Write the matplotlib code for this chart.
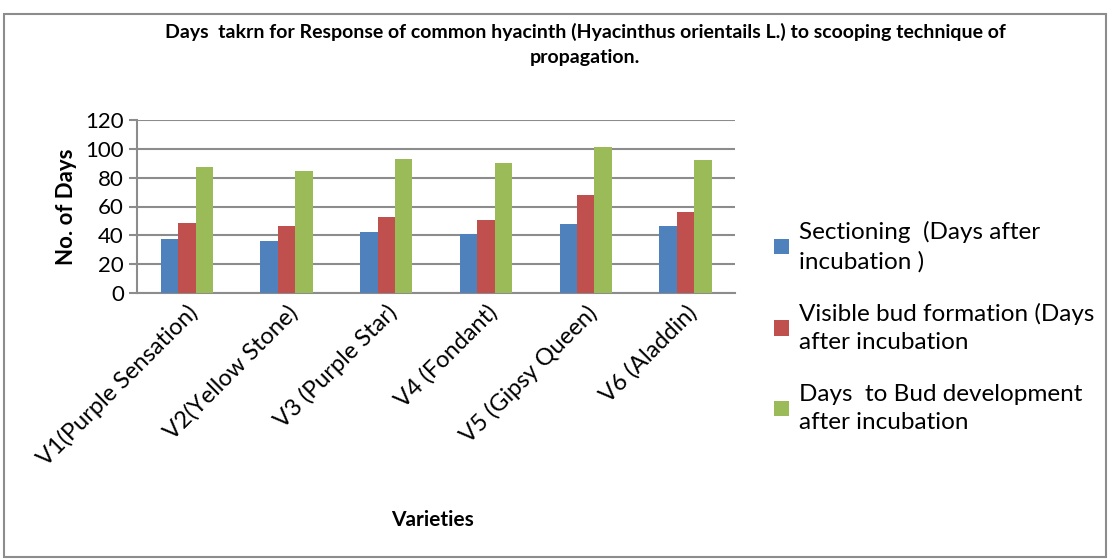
import matplotlib.pyplot as plt
import numpy as np
from matplotlib.patches import Rectangle

plt.rcParams['font.family'] = ['Lato', 'DejaVu Sans']

# Data
varieties = ["V1(Purple Sensation)", "V2(Yellow Stone)", "V3 (Purple Star)",
             "V4 (Fondant)", "V5 (Gipsy Queen)", "V6 (Aladdin)"]
sectioning = [37.5, 36.1, 42.6, 40.8, 47.7, 46.6]
visible_bud = [48.4, 46.6, 52.6, 50.7, 68.1, 56.3]
bud_development = [87.6, 84.8, 92.9, 90.3, 101.0, 92.2]
series_labels = ["Sectioning  (Days after\nincubation )",
                 "Visible bud formation (Days\nafter incubation",
                 "Days  to Bud development\nafter incubation"]
colors = ["#4F81BD", "#C0504D", "#9BBB59"]

fig = plt.figure(figsize=(11.1, 5.6), dpi=100)
ax = fig.add_axes([0.1234, 0.4768, 0.539, 0.3089])

x = np.arange(len(varieties))
w = 0.175
for i, (vals, lab, c) in enumerate(zip([sectioning, visible_bud, bud_development],
                                       series_labels, colors)):
    ax.bar(x + (i - 1) * w, vals, width=w, color=c, label=lab, zorder=3)

ax.set_xlim(-0.5, len(varieties) - 0.5)
ax.set_ylim(0, 120)
ax.set_yticks(range(0, 121, 20))
ax.yaxis.grid(True, color="#8c8c8c", linewidth=1.5, zorder=0)
ax.set_axisbelow(True)
for s in ["top", "right"]:
    ax.spines[s].set_visible(False)
ax.spines["left"].set_color("#8c8c8c")
ax.spines["bottom"].set_color("#8c8c8c")
ax.spines["left"].set_linewidth(1.5)
ax.spines["bottom"].set_linewidth(1.5)
ax.tick_params(axis="y", length=6, width=1.5, color="#8c8c8c", labelsize=16)
ax.tick_params(axis="x", length=0, labelsize=17, pad=6)
ax.set_xticks(x)
ax.set_xticklabels(varieties, rotation=45, ha="right", rotation_mode="anchor")

ax.set_ylabel("No. of Days", fontsize=16, fontweight="bold", labelpad=6)
fig.text(0.39, 0.072, "Varieties", fontsize=15, fontweight="bold", ha="center", va="center")

fig.text(0.527, 0.92, "Days  takrn for Response of common hyacinth (Hyacinthus orientails L.) to scooping technique of\npropagation.",
         fontsize=14, fontweight="bold", ha="center", va="center", linespacing=1.55)

leg = fig.legend(loc="upper left", bbox_to_anchor=(0.678, 0.645), frameon=False,
                 fontsize=17.5, handlelength=0.6, handleheight=0.6, handletextpad=0.4,
                 labelspacing=1.25)
for t in leg.get_texts():
    t.set_linespacing(1.45)

fig.patches.append(Rectangle((0.004, 0.006), 0.992, 0.969, transform=fig.transFigure,
                             fill=False, edgecolor="#8c8c8c", linewidth=1.5))

fig.savefig("out.png", dpi=100)
